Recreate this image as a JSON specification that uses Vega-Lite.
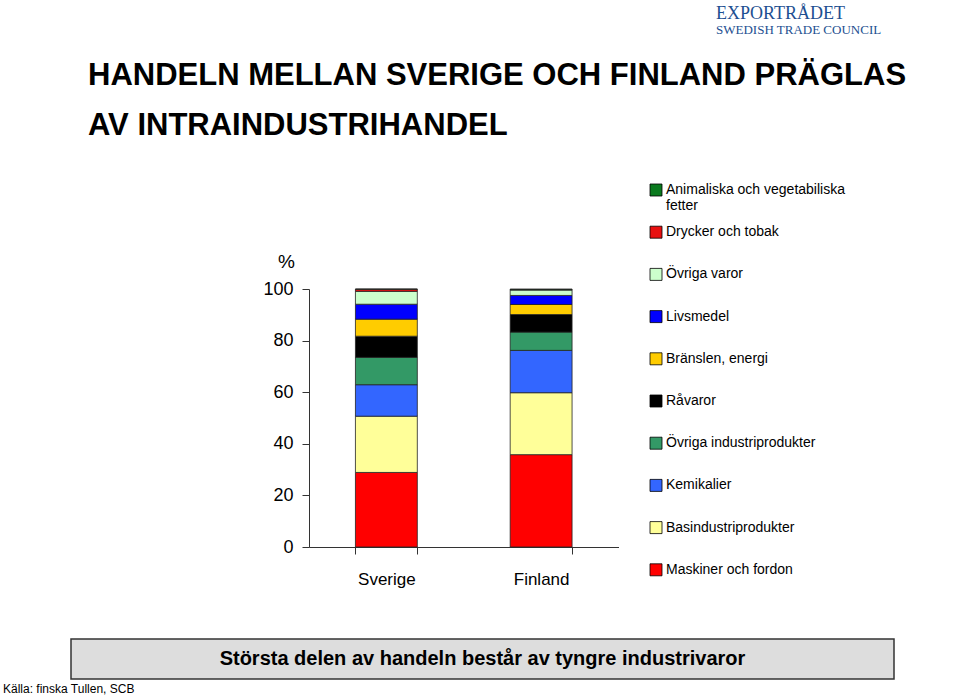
{
  "$schema": "https://vega.github.io/schema/vega-lite/v6.json",
  "background": "white",
  "autosize": {"type": "pad"},
  "padding": {"left": 2, "top": 5, "right": 66, "bottom": 2},
  "config": {
    "font": "Liberation Sans, Arial, sans-serif",
    "view": {"stroke": null}
  },
  "title": {
    "text": "EXPORTRÅDET",
    "subtitle": "SWEDISH TRADE COUNCIL",
    "anchor": "start",
    "frame": "group",
    "dx": 645,
    "dy": -23,
    "offset": 0,
    "font": "Liberation Serif, DejaVu Serif, serif",
    "subtitleFont": "Liberation Serif, DejaVu Serif, serif",
    "fontSize": 18,
    "fontWeight": "normal",
    "subtitleFontSize": 13,
    "color": "#1d4f91",
    "subtitleColor": "#1d4f91",
    "subtitlePadding": 1
  },
  "spacing": 92,
  "bounds": "flush",
  "vconcat": [
    {
      "width": 823,
      "height": 258,
      "view": {"stroke": null},
      "title": {
        "text": ["HANDELN MELLAN SVERIGE OCH FINLAND PRÄGLAS", "AV INTRAINDUSTRIHANDEL"],
        "anchor": "start",
        "frame": "group",
        "dx": 17,
        "dy": -110,
        "offset": 0,
        "fontSize": 31,
        "lineHeight": 50,
        "fontWeight": "bold",
        "color": "#000000"
      },
      "data": {
        "values": [
          {"land": "Sverige", "grupp": "Maskiner och fordon", "k": 1, "andel": 28.9},
          {"land": "Sverige", "grupp": "Basindustriprodukter", "k": 2, "andel": 21.8},
          {"land": "Sverige", "grupp": "Kemikalier", "k": 3, "andel": 12.2},
          {"land": "Sverige", "grupp": "Övriga industriprodukter", "k": 4, "andel": 10.6},
          {"land": "Sverige", "grupp": "Råvaror", "k": 5, "andel": 8.2},
          {"land": "Sverige", "grupp": "Bränslen, energi", "k": 6, "andel": 6.6},
          {"land": "Sverige", "grupp": "Livsmedel", "k": 7, "andel": 5.8},
          {"land": "Sverige", "grupp": "Övriga varor", "k": 8, "andel": 5.0},
          {"land": "Sverige", "grupp": "Drycker och tobak", "k": 9, "andel": 0.8},
          {"land": "Sverige", "grupp": "Animaliska och vegetabiliska fetter", "k": 10, "andel": 0.1},
          {"land": "Finland", "grupp": "Maskiner och fordon", "k": 1, "andel": 35.8},
          {"land": "Finland", "grupp": "Basindustriprodukter", "k": 2, "andel": 24.0},
          {"land": "Finland", "grupp": "Kemikalier", "k": 3, "andel": 16.4},
          {"land": "Finland", "grupp": "Övriga industriprodukter", "k": 4, "andel": 7.1},
          {"land": "Finland", "grupp": "Råvaror", "k": 5, "andel": 6.8},
          {"land": "Finland", "grupp": "Bränslen, energi", "k": 6, "andel": 3.9},
          {"land": "Finland", "grupp": "Livsmedel", "k": 7, "andel": 3.5},
          {"land": "Finland", "grupp": "Övriga varor", "k": 8, "andel": 2.1},
          {"land": "Finland", "grupp": "Drycker och tobak", "k": 9, "andel": 0.2},
          {"land": "Finland", "grupp": "Animaliska och vegetabiliska fetter", "k": 10, "andel": 0.2}
        ]
      },
      "mark": {"type": "bar", "stroke": "#222222", "strokeWidth": 0.8},
      "encoding": {
        "x": {
          "field": "land",
          "type": "nominal",
          "scale": {"domain": ["Sverige", "Finland"], "range": [238, 547.5], "paddingInner": 0.6, "paddingOuter": 0.3},
          "axis": {
            "title": null,
            "labelAngle": 0,
            "labelFontSize": 17,
            "labelColor": "#000000",
            "labelPadding": 17,
            "tickSize": 7,
            "tickBand": "extent",
            "domainColor": "#333333",
            "tickColor": "#333333"
          }
        },
        "y": {
          "field": "andel",
          "type": "quantitative",
          "stack": "zero",
          "scale": {"domain": [0, 100], "nice": false},
          "axis": {
            "values": [0, 20, 40, 60, 80, 100],
            "offset": -238,
            "grid": false,
            "title": "%",
            "titleAngle": 0,
            "titleX": -23,
            "titleY": -28,
            "titleAlign": "center",
            "titleBaseline": "middle",
            "titleFontSize": 19,
            "titleFontWeight": "normal",
            "titleColor": "#000000",
            "labelFontSize": 18,
            "labelColor": "#000000",
            "labelPadding": 9,
            "tickSize": 7,
            "domainColor": "#333333",
            "tickColor": "#333333"
          }
        },
        "color": {
          "field": "grupp",
          "type": "nominal",
          "scale": {
            "domain": ["Animaliska och vegetabiliska fetter", "Drycker och tobak", "Övriga varor", "Livsmedel", "Bränslen, energi", "Råvaror", "Övriga industriprodukter", "Kemikalier", "Basindustriprodukter", "Maskiner och fordon"],
            "range": ["#0a7a1e", "#e81010", "#ccffcc", "#0000ff", "#ffcc00", "#000000", "#339966", "#3366ff", "#ffff99", "#ff0000"]
          },
          "legend": {
            "orient": "none",
            "legendX": 578,
            "legendY": -106,
            "title": null,
            "symbolType": "M-1,-1H1V1H-1Z M0,-3.45 M0,3.45",
            "symbolSize": 144,
            "symbolStrokeColor": "#000000",
            "symbolStrokeWidth": 0.8,
            "symbolOpacity": 1,
            "labelFontSize": 14,
            "labelColor": "#000000",
            "labelOffset": 3,
            "labelLimit": 300,
            "rowPadding": -3.8,
            "labelExpr": "datum.label == 'Animaliska och vegetabiliska fetter' ? ['Animaliska och vegetabiliska', 'fetter'] : datum.label"
          }
        },
        "order": {"field": "k", "type": "quantitative"}
      }
    },
    {
      "width": 823,
      "height": 40,
      "view": {"fill": "#dddddd", "stroke": "#333333", "strokeWidth": 1.5},
      "title": {
        "text": "Källa: finska Tullen, SCB",
        "orient": "bottom",
        "anchor": "start",
        "frame": "group",
        "dx": -68,
        "offset": 5,
        "fontSize": 12,
        "fontWeight": "normal",
        "color": "#000000"
      },
      "data": {"values": [{"t": "Största delen av handeln består av tyngre industrivaror"}]},
      "mark": {"type": "text", "fontSize": 20, "fontWeight": "bold", "color": "#000000", "align": "center", "baseline": "middle"},
      "encoding": {"text": {"field": "t", "type": "nominal"}}
    }
  ]
}
